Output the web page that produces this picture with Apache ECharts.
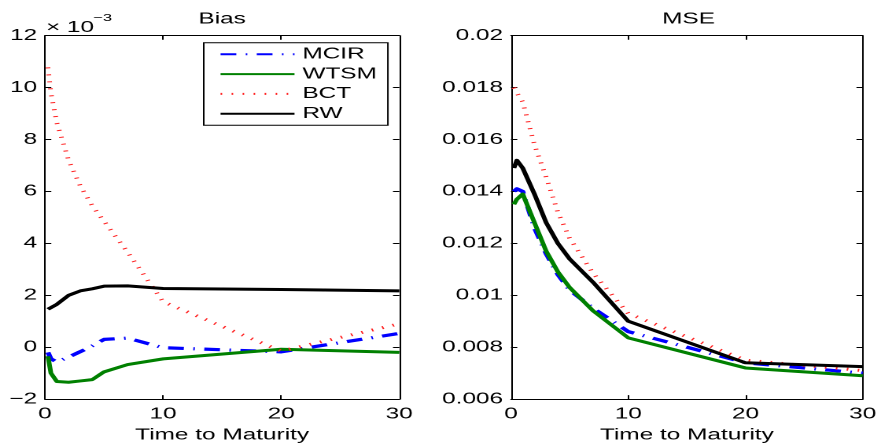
<!DOCTYPE html>
<html>
<head>
<meta charset="utf-8">
<script src="https://cdn.jsdelivr.net/npm/echarts@6/dist/echarts.min.js"></script>
<style>
html,body{margin:0;padding:0;background:#fff;}
#wrap{width:881px;height:448px;overflow:hidden;position:relative;background:#fff;}
#c{width:560px;height:448px;transform:scaleX(1.5732143);transform-origin:0 0;}
</style>
</head>
<body>
<div id="wrap"><div id="c"></div></div>
<script>
// ---- data ----
const maturities = [0.25, 0.5, 1, 2, 3, 4, 5, 7, 10, 20, 30];
// Bias, in units of 10^-3
const biasMCIR = [-0.2, -0.45, -0.57, -0.38, -0.17, 0.05, 0.3, 0.35, -0.02, -0.18, 0.53];
const biasWTSM = [-0.35, -1.0, -1.32, -1.35, -1.3, -1.25, -0.95, -0.67, -0.45, -0.08, -0.2];
const biasBCT  = [10.78, 9.8, 8.65, 7.2, 6.2, 5.45, 4.85, 3.66, 1.75, -0.15, 0.9];
const biasRW   = [1.46, 1.5, 1.65, 2.0, 2.17, 2.25, 2.35, 2.36, 2.26, 2.22, 2.17];
// MSE
const mseMCIR = [0.0140, 0.0141, 0.0140, 0.0126, 0.0116, 0.0108, 0.0102, 0.0095, 0.0086, 0.0074, 0.0070];
const mseWTSM = [0.0135, 0.0137, 0.0139, 0.0128, 0.0117, 0.0109, 0.0103, 0.0094, 0.00836, 0.0072, 0.0069];
const mseBCT  = [0.0180, 0.0178, 0.01745, 0.0158, 0.01455, 0.0132, 0.0122, 0.01085, 0.0093, 0.0075, 0.0071];
const mseRW   = [0.0149, 0.0152, 0.0149, 0.0139, 0.0128, 0.0120, 0.0114, 0.0105, 0.0090, 0.0074, 0.00725];
// ticks
const xTickValues = [0, 10, 20, 30];
const biasTickValues = [-2, 0, 2, 4, 6, 8, 10, 12];
const mseTickValues = [0.006, 0.008, 0.01, 0.012, 0.014, 0.016, 0.018, 0.02];
const seriesNames = ['MCIR', 'WTSM', 'BCT', 'RW'];
const panelTitles = ['Bias', 'MSE'];
const xAxisName = 'Time to Maturity';

// ---- styles ----
const FONT = 'Liberation Sans, Arial, Helvetica, sans-serif';
const FS = 15.5;
const styles = {
  MCIR: {color: '#0000ff', width: 3.2, type: [10, 6, 1, 6]},
  WTSM: {color: '#008000', width: 3, type: 'solid'},
  BCT:  {color: '#ff2020', width: 3, type: [1, 6]},
  RW:   {color: '#000000', width: 3, type: 'solid'}
};

const grids = [
  {left: 28.6, top: 35.7, width: 225.2, height: 368},
  {left: 324.8, top: 35.7, width: 225.7, height: 368}
];

function step(arr) { return +(arr[1] - arr[0]).toFixed(6); }

const lineAxis = {lineStyle: {color: '#000', width: 1}, onZero: false};
const tick = {inside: true, length: 4, lineStyle: {color: '#000', width: 1}};
const lbl = {color: '#000', fontSize: FS, fontFamily: FONT};

const xAxes = [], yAxes = [];
[0, 1].forEach(g => {
  const xBase = {gridIndex: g, type: 'value', min: xTickValues[0], max: xTickValues[xTickValues.length - 1],
    interval: step(xTickValues), axisLine: lineAxis, axisTick: tick, splitLine: {show: false}};
  xAxes.push(Object.assign({}, xBase, {position: 'bottom',
    axisLabel: Object.assign({margin: 7}, lbl),
    name: xAxisName, nameLocation: 'middle', nameGap: 22,
    nameTextStyle: {color: '#000', fontSize: FS, fontFamily: FONT}}));
  xAxes.push(Object.assign({}, xBase, {position: 'top', axisLabel: {show: false}}));
  const ticks = g === 0 ? biasTickValues : mseTickValues;
  const yBase = {gridIndex: g, type: 'value', min: ticks[0], max: ticks[ticks.length - 1],
    interval: step(ticks), axisLine: lineAxis, axisTick: tick, splitLine: {show: false}};
  yAxes.push(Object.assign({}, yBase, {position: 'left',
    axisLabel: Object.assign({margin: 5,
      formatter: g === 0 ? (v => String(v).replace('-', '\u2212')) : (v => String(parseFloat(v.toFixed(3))))}, lbl)}));
  yAxes.push(Object.assign({}, yBase, {position: 'right', axisLabel: {show: false}}));
});

function pairs(ys) { return maturities.map((x, i) => [x, ys[i]]); }
const biasData = {MCIR: biasMCIR, WTSM: biasWTSM, BCT: biasBCT, RW: biasRW};
const mseData = {MCIR: mseMCIR, WTSM: mseWTSM, BCT: mseBCT, RW: mseRW};

const series = [];
[[biasData, 0], [mseData, 2]].forEach(([d, ax]) => {
  seriesNames.forEach(n => {
    const s = styles[n];
    series.push({
      name: n, type: 'line', xAxisIndex: ax, yAxisIndex: ax, data: pairs(d[n]),
      symbol: 'none', showSymbol: false, animation: false, silent: true,
      lineStyle: {color: s.color, width: s.width, type: s.type, cap: 'butt', join: 'round'},
      itemStyle: {color: s.color}
    });
  });
});

const chart = echarts.init(document.getElementById('c'), null, {renderer: 'canvas', devicePixelRatio: 2, width: 560, height: 448});
chart.setOption({
  backgroundColor: '#fff',
  animation: false,
  title: [
    {text: panelTitles[0], left: grids[0].left + grids[0].width / 2, top: 11, textAlign: 'center', padding: 0,
     textStyle: {color: '#000', fontSize: FS, fontWeight: 'normal', fontFamily: FONT}},
    {text: panelTitles[1], left: grids[1].left + grids[1].width / 2, top: 11, textAlign: 'center', padding: 0,
     textStyle: {color: '#000', fontSize: FS, fontWeight: 'normal', fontFamily: FONT}}
  ],
  graphic: [
    {type: 'text', left: 29.2, top: 19.5, silent: true,
     style: {text: '\u00d7 10', fill: '#000', font: FS + 'px ' + FONT}},
    {type: 'text', left: 59.3, top: 12.5, silent: true,
     style: {text: '\u22123', fill: '#000', font: '10.5px ' + FONT}}
  ],
  legend: {
    show: true, orient: 'vertical', left: 129.5, top: 42.7,
    padding: [3.6, 7, 3.6, 9.7], itemWidth: 47, itemHeight: 14, itemGap: 3.8,
    borderColor: '#000', borderWidth: 1, backgroundColor: '#fff',
    selectedMode: false,
    itemStyle: {opacity: 0, borderWidth: 0},
    textStyle: {color: '#000', fontSize: FS, fontFamily: FONT},
    data: seriesNames
  },
  grid: grids,
  xAxis: xAxes,
  yAxis: yAxes,
  series: series
});
</script>
</body>
</html>
